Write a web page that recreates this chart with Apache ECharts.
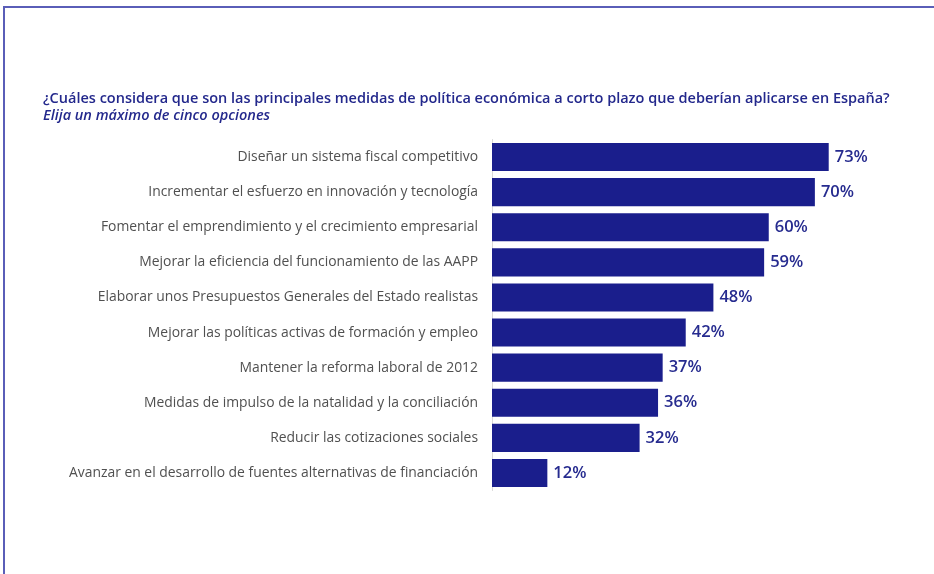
<!DOCTYPE html>
<html><head><meta charset="utf-8">
<script src="https://cdn.jsdelivr.net/npm/echarts@6/dist/echarts.min.js"></script>
<style>
html,body{margin:0;padding:0;background:#fff;}
#frame{position:absolute;left:3px;top:6px;width:931px;height:568px;border-top:2px solid #5a5eb8;border-left:2px solid #5a5eb8;box-sizing:border-box;}
#c{position:absolute;left:0;top:0;width:934px;height:574px;}
</style></head>
<body>
<div id="frame"></div>
<div id="c"></div>
<script>
const categories = [
  "Diseñar un sistema fiscal competitivo",
  "Incrementar el esfuerzo en innovación y tecnología",
  "Fomentar el emprendimiento y el crecimiento empresarial",
  "Mejorar la eficiencia del funcionamiento de las AAPP",
  "Elaborar unos Presupuestos Generales del Estado realistas",
  "Mejorar las políticas activas de formación y empleo",
  "Mantener la reforma laboral de 2012",
  "Medidas de impulso de la natalidad y la conciliación",
  "Reducir las cotizaciones sociales",
  "Avanzar en el desarrollo de fuentes alternativas de financiación"
];
const values = [73, 70, 60, 59, 48, 42, 37, 36, 32, 12];
const titleText = "¿Cuáles considera que son las principales medidas de política económica a corto plazo que deberían aplicarse en España?";
const subtitleText = "Elija un máximo de cinco opciones";

const chart = echarts.init(document.getElementById('c'), null, {renderer:'canvas'});
chart.setOption({
  animation:false,
  backgroundColor:'transparent',
  title:{
    text:titleText,
    subtext:subtitleText,
    left:38, top:85,
    itemGap:0,
    textStyle:{fontFamily:'Open Sans', fontSize:14.5, fontWeight:600, color:'#23288c', lineHeight:17},
    subtextStyle:{fontFamily:'Open Sans', fontSize:14.5, fontWeight:600, fontStyle:'italic', color:'#23288c', lineHeight:17}
  },
  grid:{left:492, right:73, top:139.5, bottom:83.5, containLabel:false},
  xAxis:{type:'value', min:0, max:80, show:false},
  yAxis:{
    type:'category', data:categories, inverse:true,
    axisLine:{show:true, lineStyle:{color:'#d9d9d9', width:1}},
    axisTick:{show:false},
    axisLabel:{fontFamily:'Open Sans', fontSize:13.9, color:'#505050', margin:14}
  },
  series:[{
    type:'bar', data:values, barWidth:'80%',
    itemStyle:{color:'#1a1e8c'},
    label:{show:true, position:'right', distance:6, formatter:'{c}%',
      fontFamily:'Open Sans', fontSize:16.5, fontWeight:600, color:'#262b8f'}
  }]
});
</script>
</body></html>
